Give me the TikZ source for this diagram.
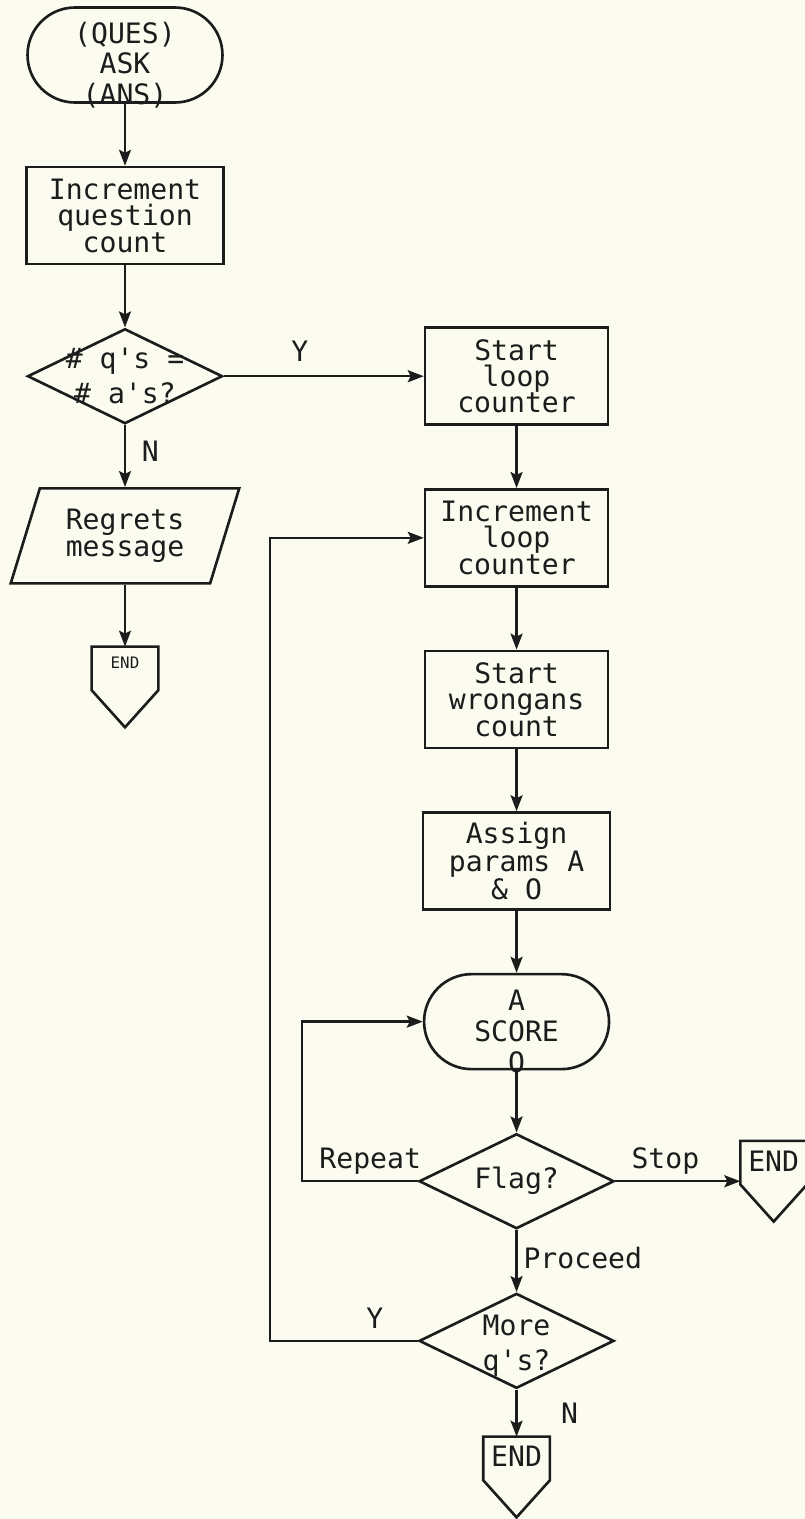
\documentclass[tikz,border=0pt]{standalone}
\usepackage{fontspec}
\setmonofont{DejaVu Sans Mono}
\usetikzlibrary{
    shapes.geometric, shapes.misc,
    arrows.meta, positioning, calc
}
\definecolor{paper}{RGB}{252,251,240}
\definecolor{ink}{RGB}{28,28,28}
\tikzset{
  txt/.style={font=\ttfamily\fontsize{16}{15}\selectfont,
              align=center, text=ink},
  dtxt/.style={txt, font=\ttfamily\fontsize{16}{20}\selectfont},
  ttxt/.style={txt, font=\ttfamily\fontsize{16}{17.5}\selectfont},
  stepbox/.style={rectangle, draw=ink, line width=1.5pt,
                  minimum width=3.66cm, minimum height=1.94cm, txt},
  termnl/.style={rounded rectangle, draw=ink, line width=1.5pt,
                 minimum width=3.9cm, minimum height=1.9cm, inner sep=0pt},
  decide/.style={diamond, draw=ink, line width=1.5pt,
                 minimum width=3.9cm, minimum height=1.9cm, inner sep=0pt},
  iobox/.style={trapezium, trapezium left angle=71,
                trapezium right angle=109, trapezium stretches=true,
                draw=ink, line width=1.5pt,
                minimum width=4.6cm, minimum height=1.9cm, txt},
  endbox/.style={rectangle, minimum width=1.32cm, inner ysep=0.2cm,
                 text height=0.4cm, text depth=0.8cm, txt},
  endsmall/.style={endbox, font=\ttfamily\fontsize{9}{9}\selectfont,
                   text height=0.24cm, text depth=0.96cm},
  arr/.style={-{Stealth[length=0.32cm, width=0.24cm, inset=0.06cm]},
              draw=ink, line width=1.3pt},
  lbl/.style={txt},
}

\begin{document}
\begin{tikzpicture}[x=0.02cm, y=-0.02cm, node distance=1.24cm]
  \useasboundingbox[fill=paper] (0,0) rectangle (805,1519);

  % left column
  \node[termnl, label={[ttxt, yshift=-0.2cm]center:{(QUES)\\ASK\\(ANS)}}]
    (ask) at (125,55) {};
  \node[stepbox, minimum width=3.94cm, below=of ask] (incq)
    {Increment\\question\\count};
  \node[decide, below=of incq,
        label={[dtxt]center:{\# q's =\\\# a's?}}] (qa) {};
  \node[iobox, below=of qa] (regrets) {Regrets\\message};
  \node[endsmall, below=of regrets] (endL) {END};

  % right column
  \node[stepbox, right=4cm of qa] (slc) {Start\\loop\\counter};
  \node[stepbox, below=of slc] (ilc) {Increment\\loop\\counter};
  \node[stepbox, below=of ilc] (swc) {Start\\wrongans\\count};
  \node[stepbox, minimum width=3.74cm, below=of swc] (apa)
    {Assign\\params A\\\& O};
  \node[termnl, minimum width=3.7cm, below=of apa,
        label={[ttxt, yshift=-0.2cm]center:{A\\SCORE\\O}}] (score) {};
  \node[decide, below=of score, label={[dtxt]center:Flag?}] (flag) {};
  \node[decide, below=of flag,
        label={[dtxt, yshift=-0.1cm]center:{More\\q's?}}] (more) {};
  \node[endbox, below=0.94cm of more] (endB) {END};
  \node[endbox, right=2.5cm of flag] (endR) {END};

  % END outlines
  \foreach \e in {endL,endR,endB}
    \draw[ink, line width=1.5pt] (\e.north west) -- (\e.north east)
      -- ($(\e.north east)!0.54!(\e.south east)$) -- (\e.south)
      -- ($(\e.north west)!0.54!(\e.south west)$) -- cycle;

  \draw[arr] (ask.south) -- (incq.north);
  \draw[arr] (incq.south) -- (qa.north);
  \draw[arr] (qa.east) --
    node[lbl, above, pos=0.38, yshift=0.15cm]{Y} (slc.west);
  \draw[arr] (qa.south) --
    node[lbl, right, pos=0.42, xshift=0.2cm]{N} (regrets.north);
  \draw[arr] (regrets.south) -- (endL.north);

  \draw[arr] (slc.south) -- (ilc.north);
  \draw[arr] (ilc.south) -- (swc.north);
  \draw[arr] (swc.south) -- (apa.north);
  \draw[arr] (apa.south) -- (score.north);
  \draw[arr] (score.south) -- (flag.north);
  \draw[arr] (flag.east) --
    node[lbl, above, pos=0.4]{Stop} (endR.west);
  \draw[arr] (flag.west) -- ++(-116,0)
    node[lbl, above, pos=0.41]{Repeat} |- (score.west);
  \draw[arr] (flag.south) --
    node[lbl, right, pos=0.45]{Proceed} (more.north);
  \draw[arr] (more.west) -- ++(-148,0)
    node[lbl, above, pos=0.29, yshift=0.1cm]{Y} |- (ilc.west);
  \draw[arr] (more.south) --
    node[lbl, right, xshift=0.75cm]{N} (endB.north);

\end{tikzpicture}
\end{document}
